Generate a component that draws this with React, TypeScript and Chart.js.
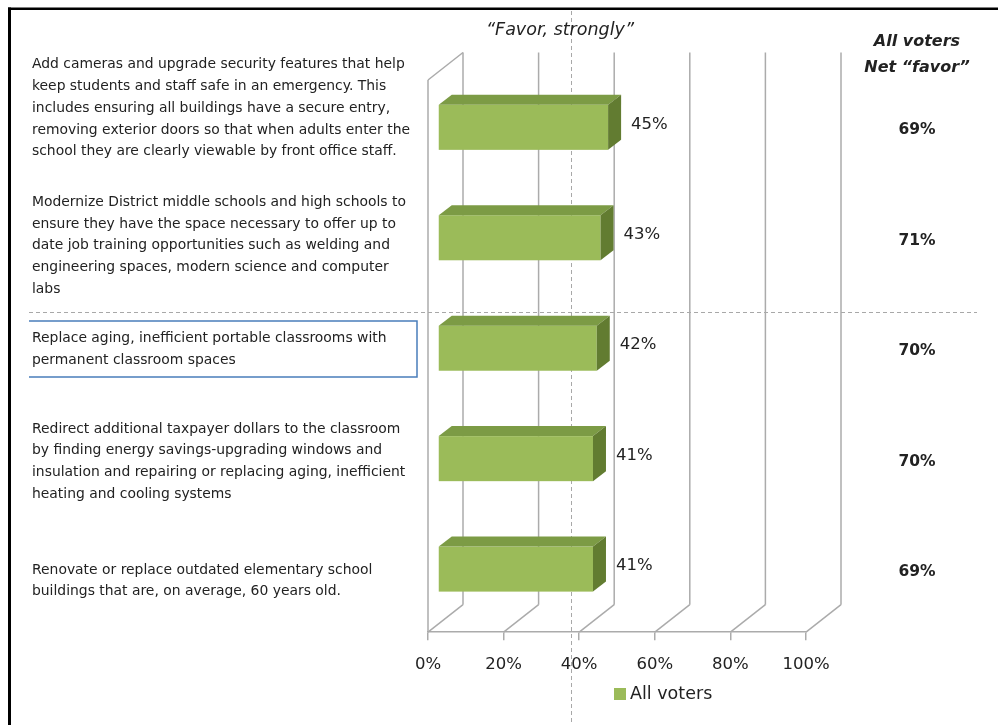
import React, { useEffect, useRef } from "react";
import { Chart, registerables } from "chart.js";

Chart.register(...registerables);

// ---------------- data ----------------
const categories: string[][] = [
  [
    "Add cameras and upgrade security features that help",
    "keep students and staff safe in an emergency. This",
    "includes ensuring all buildings have a secure entry,",
    "removing exterior doors so that when adults enter the",
    "school they are clearly viewable by front office staff.",
  ],
  [
    "Modernize District middle schools and high schools to",
    "ensure they have the space necessary to offer up to",
    "date job training opportunities such as welding and",
    "engineering spaces, modern science and computer",
    "labs",
  ],
  [
    "Replace aging, inefficient portable classrooms with",
    "permanent classroom spaces",
  ],
  [
    "Redirect additional taxpayer dollars to the classroom",
    "by finding energy savings-upgrading windows and",
    "insulation and repairing or replacing aging, inefficient",
    "heating and cooling systems",
  ],
  [
    "Renovate or replace outdated elementary school",
    "buildings that are, on average, 60 years old.",
  ],
];
const favorStrongly: number[] = [45, 43, 42, 41, 41];
const netFavor: number[] = [69, 71, 70, 70, 69];
const seriesName = "All voters";
const columnTitle = "\u201cFavor, strongly\u201d";
const netTitle = ["All voters", "Net \u201cfavor\u201d"];
const xMin = 0;
const xMax = 100;
const xStep = 20;

// ---------------- layout / style ----------------
const W = 998;
const H = 725;
const FONT = "'DejaVu Sans', sans-serif";
const TEXT = "#222222";
const GRID = "#ABABAB";
const FRONT = "#9BBB59";
const TOPC = "#7C9B45";
const SIDE = "#627C31";
const WALL_DX = 35;
const WALL_DY = -27.5;
const BAR_OFF_X = 10;
const BAR_OFF_Y = -7.9;
const BAR_D_X = 13;
const BAR_D_Y = -10;
const LABEL_NUDGE = [-27, 0, -7, -5, 4];
const LINE_H = 21.75;

function line(ctx: CanvasRenderingContext2D, x1: number, y1: number, x2: number, y2: number) {
  ctx.beginPath();
  ctx.moveTo(x1, y1);
  ctx.lineTo(x2, y2);
  ctx.stroke();
}

function poly(ctx: CanvasRenderingContext2D, pts: number[][], fill: string) {
  ctx.beginPath();
  ctx.moveTo(pts[0][0], pts[0][1]);
  for (let i = 1; i < pts.length; i++) ctx.lineTo(pts[i][0], pts[i][1]);
  ctx.closePath();
  ctx.fillStyle = fill;
  ctx.fill();
}

const plugin3d = {
  id: "plugin3d",
  beforeDatasetsDraw(chart: any) {
    const { ctx, chartArea } = chart;
    const { left, top, bottom } = chartArea;
    const xs = chart.scales.x;
    ctx.save();
    // separators (dashed)
    ctx.strokeStyle = "#A8A8A8";
    ctx.lineWidth = 1;
    ctx.setLineDash([4, 3]);
    line(ctx, 571.5, 11, 571.5, H);
    line(ctx, 29, 312.5, 977, 312.5);
    ctx.setLineDash([]);
    // 3D walls
    ctx.strokeStyle = GRID;
    ctx.lineWidth = 1.5;
    line(ctx, left, top, left, bottom);
    line(ctx, left, top, left + WALL_DX, top + WALL_DY);
    xs.ticks.forEach((t: any) => {
      const px = xs.getPixelForValue(t.value);
      line(ctx, px, bottom, px + WALL_DX, bottom + WALL_DY);
      line(ctx, px + WALL_DX, bottom + WALL_DY, px + WALL_DX, top + WALL_DY);
    });
    ctx.restore();
  },
  beforeDatasetDraw() {
    return false;
  },
  afterDatasetsDraw(chart: any) {
    const { ctx } = chart;
    const meta = chart.getDatasetMeta(0);
    ctx.save();
    meta.data.forEach((el: any, i: number) => {
      const p = el.getProps(["x", "y", "base", "height"], true);
      const x0 = p.base + BAR_OFF_X;
      const x1 = p.x + BAR_OFF_X;
      const y0 = p.y - p.height / 2 + BAR_OFF_Y;
      const y1 = p.y + p.height / 2 + BAR_OFF_Y;
      ctx.fillStyle = FRONT;
      ctx.fillRect(x0, y0, x1 - x0, y1 - y0);
      poly(ctx, [[x0, y0], [x0 + BAR_D_X, y0 + BAR_D_Y], [x1 + BAR_D_X, y0 + BAR_D_Y], [x1, y0]], TOPC);
      poly(ctx, [[x1, y0], [x1 + BAR_D_X, y0 + BAR_D_Y], [x1 + BAR_D_X, y1 + BAR_D_Y], [x1, y1]], SIDE);
      ctx.fillStyle = TEXT;
      ctx.font = `16.5px ${FONT}`;
      ctx.textAlign = "left";
      ctx.textBaseline = "middle";
      ctx.fillText(`${favorStrongly[i]}%`, x1 + BAR_D_X + 10, (y0 + y1) / 2 - 3);
    });
    ctx.restore();
  },
  afterDraw(chart: any) {
    const { ctx } = chart;
    const ys = chart.scales.y;
    ctx.save();
    ctx.fillStyle = TEXT;
    ctx.textBaseline = "middle";
    // category labels
    ctx.font = `13.9px ${FONT}`;
    ctx.textAlign = "left";
    categories.forEach((lines, i) => {
      const cy = ys.getPixelForValue(i) + LABEL_NUDGE[i];
      const startY = cy - ((lines.length - 1) * LINE_H) / 2;
      lines.forEach((s, k) => ctx.fillText(s, 32, startY + k * LINE_H));
    });
    // net favor column
    ctx.textAlign = "center";
    ctx.font = `bold 15.5px ${FONT}`;
    netFavor.forEach((v, i) => {
      ctx.fillText(`${v}%`, 917, ys.getPixelForValue(i) - 5);
    });
    ctx.font = `italic bold 16px ${FONT}`;
    ctx.fillText(netTitle[0], 917, 42);
    ctx.fillText(netTitle[1], 917, 68);
    // column title
    ctx.font = `italic 17.5px ${FONT}`;
    ctx.fillText(columnTitle, 560, 30);
    // legend
    const ds = chart.data.datasets[0];
    ctx.fillStyle = ds.backgroundColor;
    ctx.fillRect(614, 688, 12, 12);
    ctx.fillStyle = TEXT;
    ctx.textAlign = "left";
    ctx.font = `17.5px ${FONT}`;
    ctx.fillText(ds.label, 630, 694);
    // highlight box
    ctx.strokeStyle = "#4A7EBB";
    ctx.lineWidth = 1.5;
    ctx.beginPath();
    ctx.moveTo(29, 321);
    ctx.lineTo(417, 321);
    ctx.lineTo(417, 377);
    ctx.lineTo(29, 377);
    ctx.stroke();
    // frame
    ctx.fillStyle = "#000000";
    ctx.fillRect(8, 7.5, 3, H);
    ctx.fillRect(8, 7.5, W, 2.5);
    ctx.restore();
  },
};

export default function App() {
  const ref = useRef<HTMLCanvasElement>(null);
  useEffect(() => {
    if (!ref.current) return;
    Chart.defaults.font.family = FONT;
    const chart = new Chart(ref.current, {
      type: "bar",
      data: {
        labels: categories,
        datasets: [
          {
            label: seriesName,
            data: favorStrongly,
            backgroundColor: FRONT,
            categoryPercentage: 1,
            barPercentage: 0.408,
          },
        ],
      },
      options: {
        indexAxis: "y",
        responsive: false,
        animation: false,
        events: [],
        layout: { padding: { left: 428, right: W - 806, top: 80, bottom: 35 } },
        plugins: {
          legend: { display: false },
          tooltip: { enabled: false },
        },
        scales: {
          x: {
            type: "linear",
            min: xMin,
            max: xMax,
            border: { display: true, color: GRID, width: 1.5 },
            grid: {
              display: true,
              drawOnChartArea: false,
              drawTicks: true,
              tickLength: 8,
              color: GRID,
              lineWidth: 1.5,
            },
            ticks: {
              stepSize: xStep,
              padding: 15,
              maxRotation: 0,
              autoSkip: false,
              color: TEXT,
              font: { size: 16.5, family: FONT },
              callback: (v: any) => `${v}%`,
            },
          },
          y: { type: "category", display: false },
        },
      },
      plugins: [plugin3d],
    } as any);
    return () => chart.destroy();
  }, []);
  return (
    <canvas
      ref={ref}
      width={W}
      height={H}
      style={{ position: "fixed", left: 0, top: 0, display: "block" }}
    />
  );
}
